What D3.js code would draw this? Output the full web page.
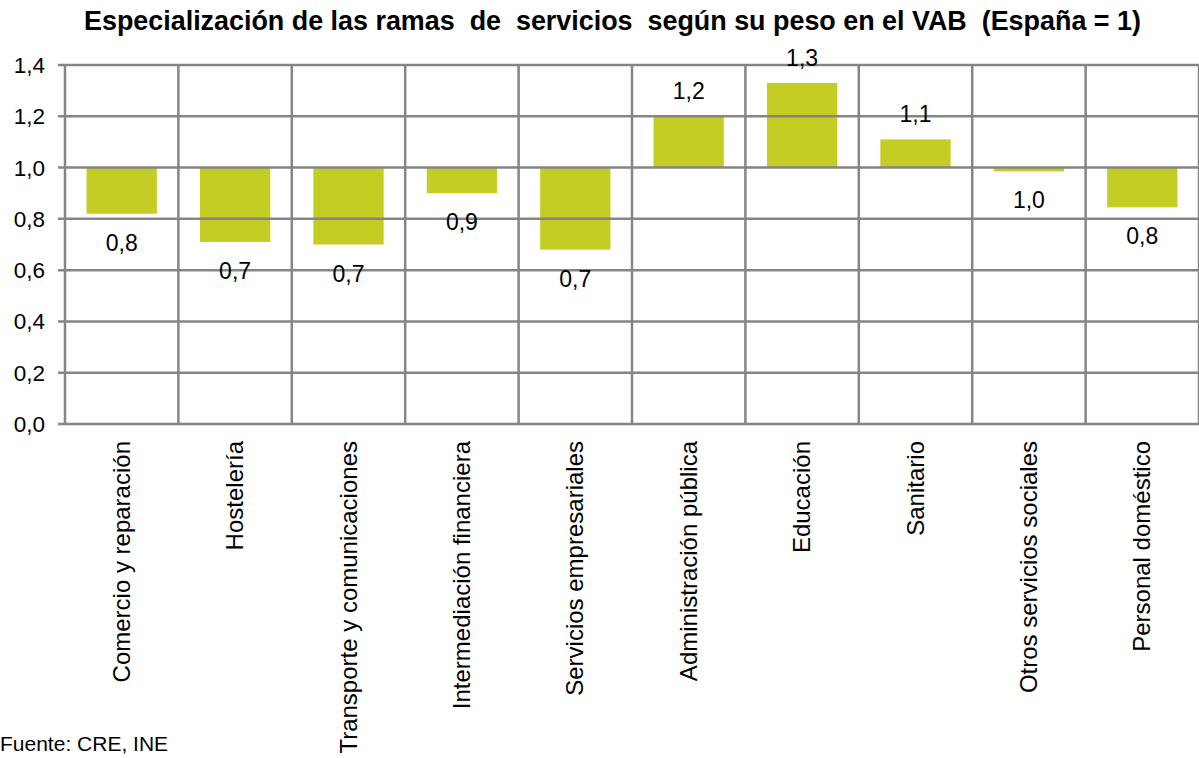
<!DOCTYPE html>
<html lang="es">
<head>
  <meta charset="UTF-8">
  <title>Especialización de las ramas de servicios</title>
  <style>
    body {
      margin: 0;
      background: #fff;
      font-family: 'Liberation Sans', Arial, sans-serif;
    }
    svg text {
      white-space: pre;
    }
  </style>
  <script src="https://d3js.org/d3.v7.min.js"></script>
</head>
<body>
  <svg></svg>

  <script>
    const categories = [
      "Comercio y reparación", "Hostelería", "Transporte y comunicaciones",
      "Intermediación financiera", "Servicios empresariales", "Administración pública",
      "Educación", "Sanitario", "Otros servicios sociales", "Personal doméstico"
    ];
    const values = [0.82, 0.71, 0.70, 0.90, 0.68, 1.20, 1.33, 1.11, 0.985, 0.845];
    const yTicks = [0, 0.2, 0.4, 0.6, 0.8, 1.0, 1.2, 1.4];
    const baseValue = 1;

    const width = 1199, height = 758;
    const svg = d3.select("svg")
      .attr("width", width)
      .attr("height", height);

    const es = d3.formatLocale({ decimal: ",", thousands: ".", grouping: [3], currency: ["", " €"] });
    const fmt = es.format(".1f");

    const x = d3.scaleBand().domain(categories).range([65, 1199]);
    const y = d3.scaleLinear().domain([0, 1.4]).range([424, 65]);

    const gridColor = "#858585";
    const barWidth = x.bandwidth() * 0.62;

    // bars drawn from the España = 1 line
    svg.append("g")
      .selectAll("rect")
      .data(values)
      .join("rect")
      .attr("x", (d, i) => x(categories[i]) + (x.bandwidth() - barWidth) / 2)
      .attr("width", barWidth)
      .attr("y", d => y(Math.max(d, baseValue)))
      .attr("height", d => Math.abs(y(d) - y(baseValue)))
      .attr("fill", "#c3cd23");

    // horizontal grid (on top of the bars, as in the original)
    svg.append("g")
      .selectAll("line")
      .data(yTicks)
      .join("line")
      .attr("x1", 58)
      .attr("x2", 1199)
      .attr("y1", d => y(d))
      .attr("y2", d => y(d))
      .attr("stroke", gridColor)
      .attr("stroke-width", 2.5);

    // vertical separators between categories
    const edges = categories.map(c => x(c)).concat([x.range()[1]]);
    svg.append("g")
      .selectAll("line")
      .data(edges)
      .join("line")
      .attr("x1", d => d)
      .attr("x2", d => d)
      .attr("y1", y(1.4))
      .attr("y2", y(0))
      .attr("stroke", gridColor)
      .attr("stroke-width", 2.5);

    // y tick labels
    svg.append("g")
      .selectAll("text")
      .data(yTicks)
      .join("text")
      .attr("x", 45)
      .attr("y", d => y(d) + 8)
      .attr("text-anchor", "end")
      .attr("font-size", 22.5)
      .attr("fill", "#000")
      .text(d => fmt(d));

    // value labels
    svg.append("g")
      .selectAll("text")
      .data(values)
      .join("text")
      .attr("x", (d, i) => x(categories[i]) + x.bandwidth() / 2)
      .attr("y", d => d >= baseValue ? y(d) - 17 : y(d) + 37)
      .attr("text-anchor", "middle")
      .attr("font-size", 23)
      .attr("fill", "#000")
      .text(d => fmt(d));

    // category labels, rotated
    svg.append("g")
      .selectAll("text")
      .data(categories)
      .join("text")
      .attr("transform", d => `translate(${x(d) + x.bandwidth() / 2 + 8},441) rotate(-90)`)
      .attr("text-anchor", "end")
      .attr("font-size", 24)
      .attr("fill", "#000")
      .text(d => d);

    // title
    svg.append("text")
      .attr("x", 84)
      .attr("y", 30)
      .attr("font-size", 26.9)
      .attr("font-weight", "bold")
      .attr("fill", "#000")
      .text("Especialización de las ramas  de  servicios  según su peso en el VAB  (España = 1)");

    // source
    svg.append("text")
      .attr("x", 0)
      .attr("y", 751)
      .attr("font-size", 21)
      .attr("fill", "#000")
      .text("Fuente: CRE, INE");
  </script>
</body>
</html>
